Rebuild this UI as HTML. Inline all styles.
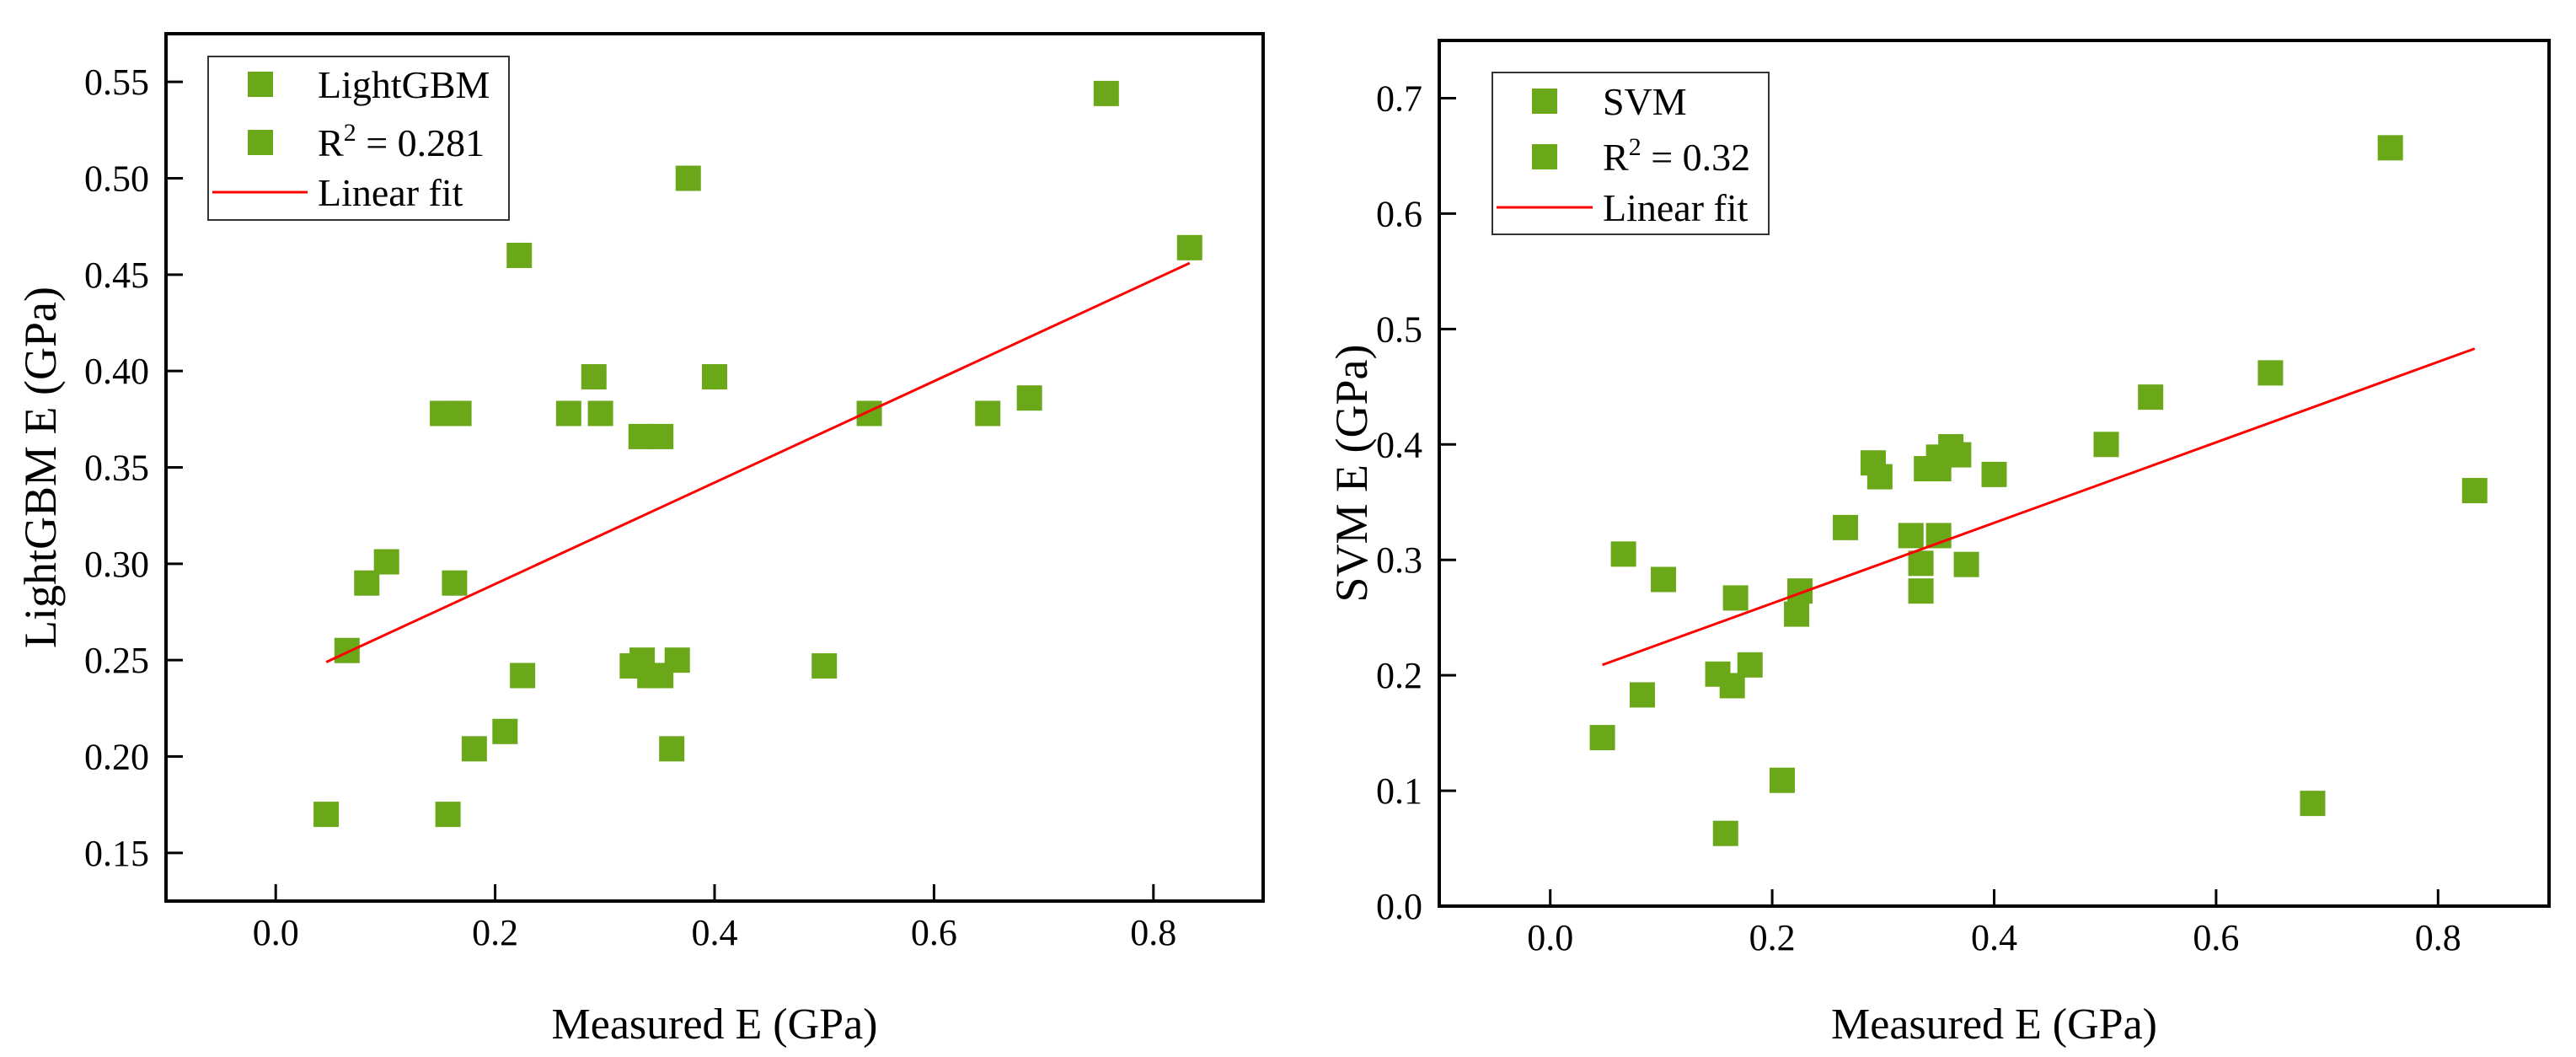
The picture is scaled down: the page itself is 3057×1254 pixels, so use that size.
<!DOCTYPE html>
<html><head><meta charset="utf-8">
<style>
html,body{margin:0;padding:0;background:#fff;}
svg{display:block;font-family:"Liberation Serif",serif;}
svg text{font-family:"Liberation Serif",serif;}
</style></head>
<body>
<svg id="chart" width="3057" height="1254" viewBox="0 0 3057 1254" xmlns="http://www.w3.org/2000/svg" font-family="Liberation Serif, serif">
<g id="p1"></g>
<g id="p2"></g>
</svg>
<script>
// ---- Panel 1 data (LightGBM) ----
const lgbX = [0.757,0.376,0.833,0.222,0.290,0.400,0.152,0.167,0.267,0.296,0.541,0.649,0.687,0.333,0.351,0.101,0.083,0.163,0.065,0.325,0.334,0.366,0.341,0.351,0.225,0.500,0.209,0.181,0.361,0.046,0.157];
const lgbY = [0.544,0.500,0.464,0.460,0.397,0.397,0.378,0.378,0.378,0.378,0.378,0.378,0.386,0.366,0.366,0.301,0.290,0.290,0.255,0.247,0.250,0.250,0.242,0.242,0.242,0.247,0.213,0.204,0.204,0.170,0.170];
const lgbFitX = [0.046,0.833];
const lgbFitY = [0.249,0.456];
const lgbYTicks = [0.15,0.20,0.25,0.30,0.35,0.40,0.45,0.50,0.55];
const lgbYLabels = ["0.15","0.20","0.25","0.30","0.35","0.40","0.45","0.50","0.55"];
// ---- Panel 2 data (SVM) ----
const svmX = [0.757,0.649,0.541,0.501,0.833,0.687,0.400,0.361,0.368,0.350,0.339,0.350,0.291,0.297,0.266,0.325,0.350,0.334,0.375,0.334,0.225,0.222,0.167,0.066,0.102,0.180,0.151,0.164,0.083,0.047,0.209,0.158];
const svmY = [0.657,0.462,0.441,0.400,0.360,0.089,0.374,0.398,0.391,0.389,0.379,0.379,0.384,0.372,0.328,0.321,0.321,0.297,0.296,0.273,0.273,0.253,0.267,0.305,0.283,0.209,0.201,0.191,0.183,0.146,0.109,0.063];
const svmFitX = [0.047,0.833];
const svmFitY = [0.209,0.483];
const svmYTicks = [0.0,0.1,0.2,0.3,0.4,0.5,0.6,0.7];
const svmYLabels = ["0.0","0.1","0.2","0.3","0.4","0.5","0.6","0.7"];
const xTicks = [0.0,0.2,0.4,0.6,0.8];
const xLabels = ["0.0","0.2","0.4","0.6","0.8"];

const NS="http://www.w3.org/2000/svg";
const FONT='"Liberation Serif", serif';
function mk(parent,tag,attrs,text){
  const e=document.createElementNS(NS,tag);
  for(const k in attrs) e.setAttribute(k,attrs[k]);
  if(tag==='text'){ e.setAttribute('font-family',FONT); e.style.fontFamily=FONT; }
  if(text!==undefined) e.textContent=text;
  parent.appendChild(e);
  return e;
}
const GREEN="#6aa819";

function panel(g,cfg){
  const {L,R,T,B,xmin,xmax,ymin,ymax,xs,ys,fx,fy,yt,yl,ytitle,ytitleX,legend,name}=cfg;
  const sx=v=>L+(v-xmin)/(xmax-xmin)*(R-L);
  const sy=v=>B-(v-ymin)/(ymax-ymin)*(B-T);
  for(let i=0;i<xs.length;i++){
    const r=mk(g,'rect',{x:sx(xs[i])-15,y:sy(ys[i])-15,width:30,height:30,fill:GREEN});
    
    
  }
  const ln=mk(g,'line',{x1:sx(fx[0]),y1:sy(fy[0]),x2:sx(fx[1]),y2:sy(fy[1]),stroke:'#ff0000','stroke-width':3});
  
  
  const fr=mk(g,'rect',{x:L,y:T,width:R-L,height:B-T,fill:'none',stroke:'#000','stroke-width':4});
  
  
  for(let i=0;i<xTicks.length;i++){
    const x=sx(xTicks[i]);
    const t=mk(g,'line',{x1:x,y1:B,x2:x,y2:B-20,stroke:'#000','stroke-width':3});
    
    
    const lb=mk(g,'text',{x:x,y:B+52,'font-size':44,'text-anchor':'middle'},xLabels[i]);
    
    
  }
  for(let i=0;i<yt.length;i++){
    const y=sy(yt[i]);
    const t=mk(g,'line',{x1:L,y1:y,x2:L+20,y2:y,stroke:'#000','stroke-width':3});
    
    
    const lb=mk(g,'text',{x:L-20,y:y+15,'font-size':44,'text-anchor':'end'},yl[i]);
    
    
  }
  const xt=mk(g,'text',{x:(L+R)/2,y:1232,'font-size':52,'text-anchor':'middle'},'Measured E (GPa)');
  
  
  const ytl=mk(g,'text',{x:0,y:0,'font-size':54,'text-anchor':'middle',transform:`translate(${ytitleX},${(T+B)/2}) rotate(-90)`},ytitle);
  
  
  const lg=mk(g,'g',{});
  
  
  mk(lg,'rect',{x:legend.x,y:legend.y,width:legend.w,height:legend.h,fill:'#fff',stroke:'#333','stroke-width':2});
  const rows=legend.rows;
  const e1=mk(lg,'rect',{x:legend.mx-15,y:rows[0]-15,width:30,height:30,fill:GREEN});
  
  
  mk(lg,'text',{x:legend.tx,y:rows[0]+16,'font-size':46},legend.label);
  const e2=mk(lg,'rect',{x:legend.mx-15,y:rows[1]-15,width:30,height:30,fill:GREEN});
  
  
  const r2=mk(lg,'text',{x:legend.tx,y:rows[1]+16,'font-size':46});
  
  
  r2.appendChild(document.createTextNode('R'));
  mk(r2,'tspan',{'font-size':30,dy:-18},'2');
  mk(r2,'tspan',{dy:18},' = '+legend.r2);
  const e3=mk(lg,'line',{x1:legend.x+5,y1:rows[2],x2:legend.tx-12,y2:rows[2],stroke:'#ff0000','stroke-width':3});
  
  
  mk(lg,'text',{x:legend.tx,y:rows[2]+16,'font-size':46},'Linear fit');
}

panel(document.getElementById('p1'),{name:'lightgbm',L:197,R:1499,T:40,B:1069,xmin:-0.1,xmax:0.9,ymin:0.125,ymax:0.575,
  xs:lgbX,ys:lgbY,fx:lgbFitX,fy:lgbFitY,yt:lgbYTicks,yl:lgbYLabels,ytitle:'LightGBM E (GPa)',ytitleX:66,
  legend:{x:247,y:67,w:357,h:194,mx:309,tx:377,rows:[100,169,228],label:'LightGBM',r2:'0.281'}});
panel(document.getElementById('p2'),{name:'svm',L:1708,R:3025,T:48,B:1075,xmin:-0.1,xmax:0.9,ymin:0,ymax:0.75,
  xs:svmX,ys:svmY,fx:svmFitX,fy:svmFitY,yt:svmYTicks,yl:svmYLabels,ytitle:'SVM E (GPa)',ytitleX:1622,
  legend:{x:1771,y:86,w:328,h:192,mx:1833,tx:1902,rows:[120,186,246],label:'SVM',r2:'0.32'}});
</script>
</body></html>
